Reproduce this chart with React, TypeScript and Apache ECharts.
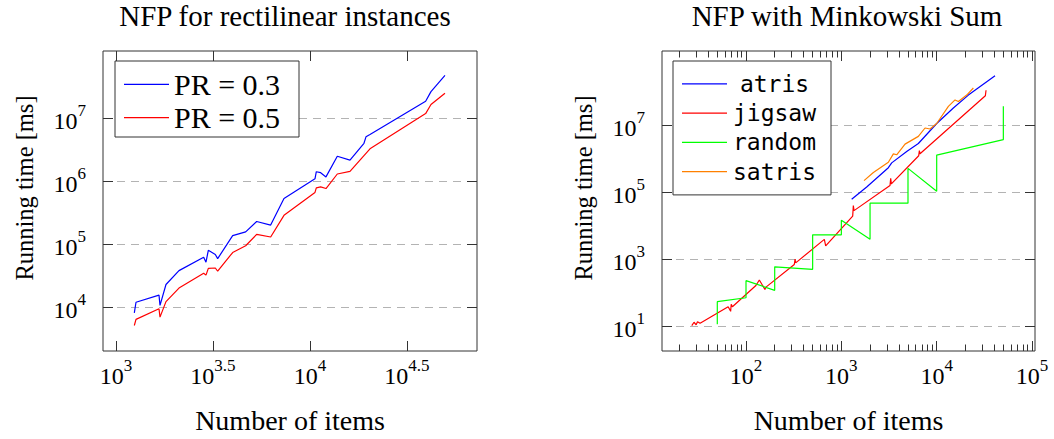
import React, { useEffect, useRef } from 'react';
import * as echarts from 'echarts';

// ---------- Left chart: NFP for rectilinear instances ----------
const rectItems = [1243, 1268, 1666, 1686, 1810, 2112, 2831, 2910, 2992, 3251, 3343, 3994, 4661, 5311, 6271, 7345, 10612, 10780, 11350, 12091, 13832, 16077, 18980, 19440, 20385, 39470, 42050, 49650];
const pr03Time = [7990, 11800, 15300, 10500, 22600, 37500, 60900, 51000, 78900, 67700, 58100, 134400, 154800, 225900, 198300, 522200, 1073600, 1391700, 1343000, 1152000, 2453000, 2129000, 3935000, 4982000, 5412000, 18260000, 26030000, 46960000];
const pr05Time = [5040, 6310, 9320, 6855, 12080, 19830, 34150, 31820, 40770, 41250, 36650, 72680, 93160, 140800, 128200, 282700, 653800, 771300, 799000, 753300, 1281000, 1408000, 2512000, 2729000, 3219000, 11660000, 16230000, 24530000];
const leftSeriesNames = ['PR = 0.3', 'PR = 0.5'];
const leftXTickExps = [3, 3.5, 4, 4.5];
const leftYTickExps = [4, 5, 6, 7];
const leftXRange = [2.933, 4.861];
const leftYRange = [3.298, 8.06];

// ---------- Right chart: NFP with Minkowski Sum ----------
const atrisItems = [1283, 1844, 3112, 3373, 4846, 6422, 10000, 14950, 21490, 40920];
const atrisTime = [59780, 138900, 525600, 732800, 1593000, 2773000, 10980000, 31840000, 77300000, 292600000];
const jigsawItems = [27, 28.5, 30, 31, 33, 65, 69, 70, 72, 127, 138, 158, 162, 321, 327, 332, 663, 685, 1315, 1336, 1358, 3239, 3292, 3345, 6474, 6580, 6686, 32390, 32920];
const jigsawTime = [10.2, 12.8, 10.7, 13.3, 11.9, 37, 27.1, 44.2, 37, 160, 233, 122.6, 143.2, 677, 987, 756, 3819, 2450, 18860, 39210, 27500, 155100, 252800, 173300, 1194000, 1703000, 1364000, 73960000, 107900000];
const randomItems = [50, 50, 100, 100, 200, 200, 500, 500, 1000, 1000, 2000, 2000, 5000, 5000, 10000, 10000, 50000, 50000];
const randomTime = [11.2, 52.8, 68.9, 223, 114.7, 579, 485, 5210, 5210, 14140, 3820, 45800, 45800, 502600, 104000, 1249000, 3622000, 35580000];
const satrisItems = [1729, 2167, 3112, 3512, 3805, 4654, 6422, 7544, 8513, 10000, 13260, 15570, 16880, 20640, 24240];
const satrisTime = [216500, 376900, 766300, 1364000, 1276000, 2654000, 4520000, 8045000, 7529000, 10980000, 35580000, 55420000, 49610000, 77300000, 126000000];
const rightSeriesNames = ['atris', 'jigsaw', 'random', 'satris'];
const rightXTickExps = [2, 3, 4, 5];
const rightXMinorTicks = [20, 30, 40, 50, 60, 70, 80, 90, 200, 300, 400, 500, 600, 700, 800, 900, 2000, 3000, 4000, 5000, 6000, 7000, 8000, 9000, 20000, 30000, 40000, 50000, 60000, 70000, 80000, 90000];
const rightYTickExps = [1, 3, 5, 7];
const rightXRange = [1.119, 5.031];
const rightYRange = [0.249, 9.204];

const SERIF = 'Liberation Serif, DejaVu Serif, serif';
const MONO = 'DejaVu Sans Mono, Liberation Mono, monospace';
const FRAME = '#333333';

const lg = (v: number) => Math.log10(v);
const pairs = (xs: number[], ys: number[]) => xs.map((x, i) => [lg(x), lg(ys[i])]);

const expLabel = (v: number) => `{b|10}{s|${Math.round(v * 10) / 10}}`;
const makeRich = () => ({
  b: { fontSize: 24, fontFamily: SERIF, color: '#000', padding: [7, 0, 0, 0], verticalAlign: 'bottom' },
  s: { fontSize: 17, fontFamily: SERIF, color: '#000', verticalAlign: 'top' },
});

const majorTick = (vals: number[]) => ({
  show: true, inside: true, length: 10, customValues: vals,
  lineStyle: { color: FRAME, width: 1 },
});
const minorTickAxis = (vals: number[]) => ({
  show: true, inside: true, length: 6.5, customValues: vals,
  lineStyle: { color: FRAME, width: 1 },
});

function xAxes(grid: number, range: number[], ticks: number[], minor: number[] | null) {
  const base = { type: 'value', gridIndex: grid, min: range[0], max: range[1], axisLine: { show: false }, splitLine: { show: false } };
  const list: any[] = [
    {
      ...base, position: 'bottom', axisTick: majorTick(ticks),
      axisLabel: { customValues: ticks, formatter: expLabel, rich: makeRich(), margin: 6, fontFamily: SERIF },
      name: 'Number of items', nameLocation: 'middle', nameGap: 55,
      nameTextStyle: { fontFamily: SERIF, fontSize: 28, color: '#000' },
    },
  ];
  if (minor) list.push({ ...base, position: 'bottom', axisTick: minorTickAxis(minor), axisLabel: { show: false } });
  list.push({ ...base, position: 'top', axisTick: majorTick(ticks), axisLabel: { show: false } });
  if (minor) list.push({ ...base, position: 'top', axisTick: minorTickAxis(minor), axisLabel: { show: false } });
  return list;
}

function yAxes(grid: number, range: number[], ticks: number[]) {
  const base = { type: 'value', gridIndex: grid, min: range[0], max: range[1], axisLine: { show: false } };
  return [
    {
      ...base, position: 'left', axisTick: majorTick(ticks),
      axisLabel: { customValues: ticks, formatter: expLabel, rich: makeRich(), margin: 17, fontFamily: SERIF },
      splitLine: { show: true, lineStyle: { color: '#b3b3b3', width: 1, type: [8, 6] } },
      name: 'Running time [ms]', nameLocation: 'middle', nameGap: 66,
      nameTextStyle: { fontFamily: SERIF, fontSize: 24.5, color: '#000', padding: [0, 0, 0, 26] },
    },
    { ...base, position: 'right', axisTick: majorTick(ticks), axisLabel: { show: false }, splitLine: { show: false } },
  ];
}

const lineSeries = (name: string, data: number[][], color: string, xi: number, yi: number) => ({
  type: 'line', name, data, xAxisIndex: xi, yAxisIndex: yi, symbol: 'none', showSymbol: false, color,
  itemStyle: { color }, lineStyle: { color, width: 1.2 },
});

export default function App() {
  const ref = useRef<HTMLDivElement>(null);
  useEffect(() => {
    document.body.style.margin = '0';
    let disposed = false;
    const chart = echarts.init(ref.current!, null, { renderer: 'svg' });
    const leftX = xAxes(0, leftXRange, leftXTickExps, null);
    const rightX = xAxes(1, rightXRange, rightXTickExps, rightXMinorTicks.map(lg));
    const rightXStart = leftX.length;
    const option = {
      animation: false,
      title: [
        { text: 'NFP for rectilinear instances', left: 285, top: 1, textAlign: 'center', padding: 0,
          textStyle: { fontFamily: SERIF, fontSize: 29, fontWeight: 'normal', color: '#000' } },
        { text: 'NFP with Minkowski Sum', left: 847, top: 1, textAlign: 'center', padding: 0,
          textStyle: { fontFamily: SERIF, fontSize: 29, fontWeight: 'normal', color: '#000' } },
      ],
      grid: [
        { left: 103, top: 51, width: 374, height: 310, show: true, borderColor: FRAME, borderWidth: 1, backgroundColor: 'transparent' },
        { left: 662, top: 51, width: 373, height: 310, show: true, borderColor: FRAME, borderWidth: 1, backgroundColor: 'transparent' },
      ],
      legend: [
        {
          data: leftSeriesNames, orient: 'vertical', left: 115, top: 61, selectedMode: false,
          padding: [8.3, 15, 4.3, 9], itemGap: 3.4, itemWidth: 45, itemHeight: 1.3, icon: 'rect',
          borderColor: FRAME, borderWidth: 1, backgroundColor: '#fff', borderRadius: 0,
          formatter: (n: string) => `{t|${n}}`,
          textStyle: { fontFamily: SERIF, fontSize: 30, lineHeight: 30,
            rich: { t: { fontFamily: SERIF, fontSize: 30, color: '#000', width: 110, lineHeight: 30 } } },
        },
        {
          data: rightSeriesNames, orient: 'vertical', left: 673, top: 61, selectedMode: false,
          padding: [11.3, 14, 11.7, 9], itemGap: 6.3, itemWidth: 45, itemHeight: 1.3, icon: 'rect',
          borderColor: FRAME, borderWidth: 1, backgroundColor: '#fff', borderRadius: 0,
          formatter: (n: string) => `{t|${n}}`,
          textStyle: { fontFamily: MONO, fontSize: 23, lineHeight: 23,
            rich: { t: { fontFamily: MONO, fontSize: 23, color: '#000', width: 85, align: 'center', lineHeight: 23 } } },
        },
      ],
      xAxis: [...leftX, ...rightX],
      yAxis: [...yAxes(0, leftYRange, leftYTickExps), ...yAxes(1, rightYRange, rightYTickExps)],
      series: [
        lineSeries('PR = 0.3', pairs(rectItems, pr03Time), '#0000ff', 0, 0),
        lineSeries('PR = 0.5', pairs(rectItems, pr05Time), '#ff0000', 0, 0),
        lineSeries('atris', pairs(atrisItems, atrisTime), '#0000ff', rightXStart, 2),
        lineSeries('jigsaw', pairs(jigsawItems, jigsawTime), '#ff0000', rightXStart, 2),
        lineSeries('random', pairs(randomItems, randomTime), '#00ff00', rightXStart, 2),
        lineSeries('satris', pairs(satrisItems, satrisTime), '#ff8000', rightXStart, 2),
      ],
    };
    chart.setOption(option);
    const redraw = () => { if (!disposed) chart.setOption(option, true); };
    const fonts = (document as any).fonts;
    if (fonts && fonts.load) {
      Promise.all([fonts.load('24px "Liberation Serif"'), fonts.load('23px "DejaVu Sans Mono"')]).then(redraw, redraw);
    }
    const timer = setTimeout(redraw, 150);
    return () => { disposed = true; clearTimeout(timer); chart.dispose(); };
  }, []);
  return <div ref={ref} style={{ position: 'absolute', left: 0, top: 0, width: 1054, height: 439 }} />;
}
